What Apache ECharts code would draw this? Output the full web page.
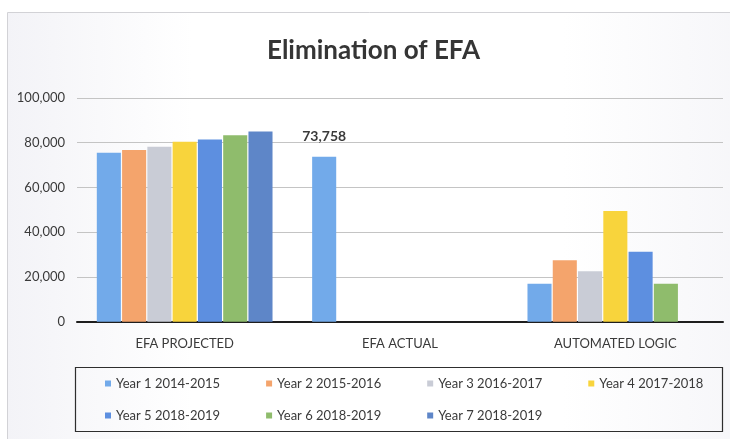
<!DOCTYPE html>
<html>
<head>
<meta charset="utf-8">
<script src="https://cdn.jsdelivr.net/npm/echarts@6/dist/echarts.min.js"></script>
<style>
  html, body { margin: 0; padding: 0; background: #ffffff; }
  #chart { width: 730px; height: 439px; }
</style>
</head>
<body>
<div id="chart"></div>
<script>
// Categories along the x axis
const categories = ['EFA PROJECTED', 'EFA ACTUAL', 'AUTOMATED LOGIC'];

// One series per year; values per category (null = no bar)
const seriesNames = [
  'Year 1 2014-2015', 'Year 2 2015-2016', 'Year 3 2016-2017', 'Year 4 2017-2018',
  'Year 5 2018-2019', 'Year 6 2018-2019', 'Year 7 2018-2019'
];
const year1 = [75500, 73758, 17000];
const year2 = [76800, null, 27500];
const year3 = [78200, null, 22500];
const year4 = [80400, null, 49500];
const year5 = [81500, null, 31300];
const year6 = [83400, null, 17000];
const year7 = [85000, null, null];
const seriesValues = [year1, year2, year3, year4, year5, year6, year7];

// Value shown above the EFA ACTUAL bar
const labelledIndex = 1;

// Y axis ticks
const yMin = 0, yMax = 100000, yStep = 20000;

const colors = ['#72aaea', '#f4a46c', '#c9ccd6', '#f8d43c', '#5d8fe0', '#8fbc6c', '#5e86c8'];
const FONT = 'Lato, "Liberation Sans", sans-serif';
const TXT = '#3a3a3a';

const chart = echarts.init(document.getElementById('chart'), null, { renderer: 'canvas' });

const series = seriesNames.map((name, i) => ({
  name,
  type: 'bar',
  data: seriesValues[i].map((v, c) => {
    if (i === 0 && c === labelledIndex) {
      return {
        value: v,
        label: {
          show: true, position: 'top', distance: 13,
          formatter: p => p.value.toLocaleString('en-US'),
          fontFamily: FONT, fontSize: 14, fontWeight: 'bold', color: TXT
        }
      };
    }
    return v;
  }),
  itemStyle: { color: colors[i] },
  barGap: '5%',
  barCategoryGap: '18.4%'
}));

const legendCommon = {
  icon: 'rect', itemWidth: 6, itemHeight: 6, itemGap: 46,
  left: 105, orient: 'horizontal', padding: 0,
  textStyle: { fontFamily: FONT, fontSize: 13, color: TXT },
  selectedMode: false
};

chart.setOption({
  backgroundColor: 'transparent',
  animation: false,
  color: colors,
  title: {
    text: 'Elimination of EFA',
    left: 262, top: 33,
    textStyle: { fontFamily: FONT, fontSize: 26, fontWeight: 'bold', color: '#353535' }
  },
  graphic: [
    {
      type: 'rect', z: -10, silent: true,
      shape: { x: 7.5, y: 12.5, width: 740, height: 440 },
      style: {
        fill: new echarts.graphic.LinearGradient(0, 0, 1, 0, [
          { offset: 0, color: '#f3f3f7' }, { offset: 0.25, color: '#ffffff' },
          { offset: 0.75, color: '#ffffff' }, { offset: 1, color: '#f6f6f9' }
        ]),
        stroke: '#d2d2d6', lineWidth: 1
      }
    },
    {
      type: 'rect', z: 1, silent: true,
      shape: { x: 75.5, y: 367.5, width: 647, height: 64 },
      style: { fill: 'transparent', stroke: '#2e2e2e', lineWidth: 1.2 }
    }
  ],
  legend: [
    Object.assign({}, legendCommon, { top: 377, data: seriesNames.slice(0, 4) }),
    Object.assign({}, legendCommon, { top: 409, data: seriesNames.slice(4) })
  ],
  grid: { left: 77, right: 7, top: 98, bottom: 117.3, containLabel: false },
  xAxis: {
    type: 'category',
    data: categories,
    axisLine: { show: true, lineStyle: { color: '#1e1e1e', width: 2 } },
    axisTick: { show: false },
    axisLabel: { fontFamily: FONT, fontSize: 13, color: TXT, margin: 16 }
  },
  yAxis: {
    type: 'value',
    min: yMin, max: yMax, interval: yStep,
    axisLine: { show: false },
    axisTick: { show: false },
    axisLabel: {
      fontFamily: FONT, fontSize: 13, color: TXT, margin: 12,
      formatter: v => v.toLocaleString('en-US')
    },
    splitLine: { lineStyle: { color: '#c4c4c4', width: 1 } }
  },
  series
});
</script>
</body>
</html>
